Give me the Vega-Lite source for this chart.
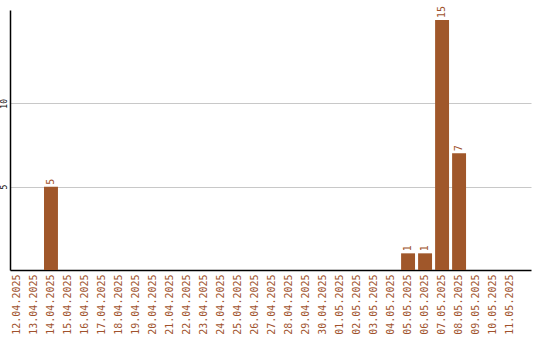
{
  "$schema": "https://vega.github.io/schema/vega-lite/v6.json",
  "autosize": "none",
  "width": 521,
  "height": 260,
  "padding": {"left": 10, "top": 10, "right": 9, "bottom": 70},
  "background": "white",
  "config": {"view": {"stroke": null}},
  "data": {
    "values": [
      {"date": "12.04.2025", "count": 0},
      {"date": "13.04.2025", "count": 0},
      {"date": "14.04.2025", "count": 5},
      {"date": "15.04.2025", "count": 0},
      {"date": "16.04.2025", "count": 0},
      {"date": "17.04.2025", "count": 0},
      {"date": "18.04.2025", "count": 0},
      {"date": "19.04.2025", "count": 0},
      {"date": "20.04.2025", "count": 0},
      {"date": "21.04.2025", "count": 0},
      {"date": "22.04.2025", "count": 0},
      {"date": "23.04.2025", "count": 0},
      {"date": "24.04.2025", "count": 0},
      {"date": "25.04.2025", "count": 0},
      {"date": "26.04.2025", "count": 0},
      {"date": "27.04.2025", "count": 0},
      {"date": "28.04.2025", "count": 0},
      {"date": "29.04.2025", "count": 0},
      {"date": "30.04.2025", "count": 0},
      {"date": "01.05.2025", "count": 0},
      {"date": "02.05.2025", "count": 0},
      {"date": "03.05.2025", "count": 0},
      {"date": "04.05.2025", "count": 0},
      {"date": "05.05.2025", "count": 1},
      {"date": "06.05.2025", "count": 1},
      {"date": "07.05.2025", "count": 15},
      {"date": "08.05.2025", "count": 7},
      {"date": "09.05.2025", "count": 0},
      {"date": "10.05.2025", "count": 0},
      {"date": "11.05.2025", "count": 0}
    ]
  },
  "encoding": {
    "x": {
      "field": "date",
      "type": "ordinal",
      "sort": null,
      "scale": {"paddingInner": 0.18, "paddingOuter": 0.41, "align": 0},
      "axis": {
        "title": null,
        "labelAngle": -90,
        "labelFont": "DejaVu Sans Mono",
        "labelFontSize": 10,
        "labelColor": "#a0522d",
        "labelPadding": 4,
        "ticks": false,
        "domainColor": "#000000",
        "domainWidth": 1.5,
        "grid": false
      }
    },
    "y": {
      "field": "count",
      "type": "quantitative",
      "scale": {"domain": [0, 15.6], "nice": false},
      "axis": {
        "title": null,
        "values": [5, 10],
        "labelAngle": -90,
        "labelFont": "DejaVu Sans Mono",
        "labelFontSize": 8,
        "labelColor": "#000000",
        "labelAlign": "center",
        "labelBaseline": "bottom",
        "labelPadding": 2,
        "ticks": false,
        "domainColor": "#000000",
        "domainWidth": 1.5,
        "gridColor": "#c8c8c8",
        "gridOpacity": 1
      }
    }
  },
  "layer": [
    {
      "mark": {"type": "bar", "color": "#a0572a"}
    },
    {
      "transform": [{"filter": "datum.count > 0"}],
      "mark": {
        "type": "text",
        "angle": -90,
        "align": "left",
        "baseline": "middle",
        "dx": 2,
        "font": "DejaVu Sans Mono",
        "fontSize": 10,
        "color": "#a0522d"
      },
      "encoding": {"text": {"field": "count", "type": "quantitative"}}
    }
  ]
}
